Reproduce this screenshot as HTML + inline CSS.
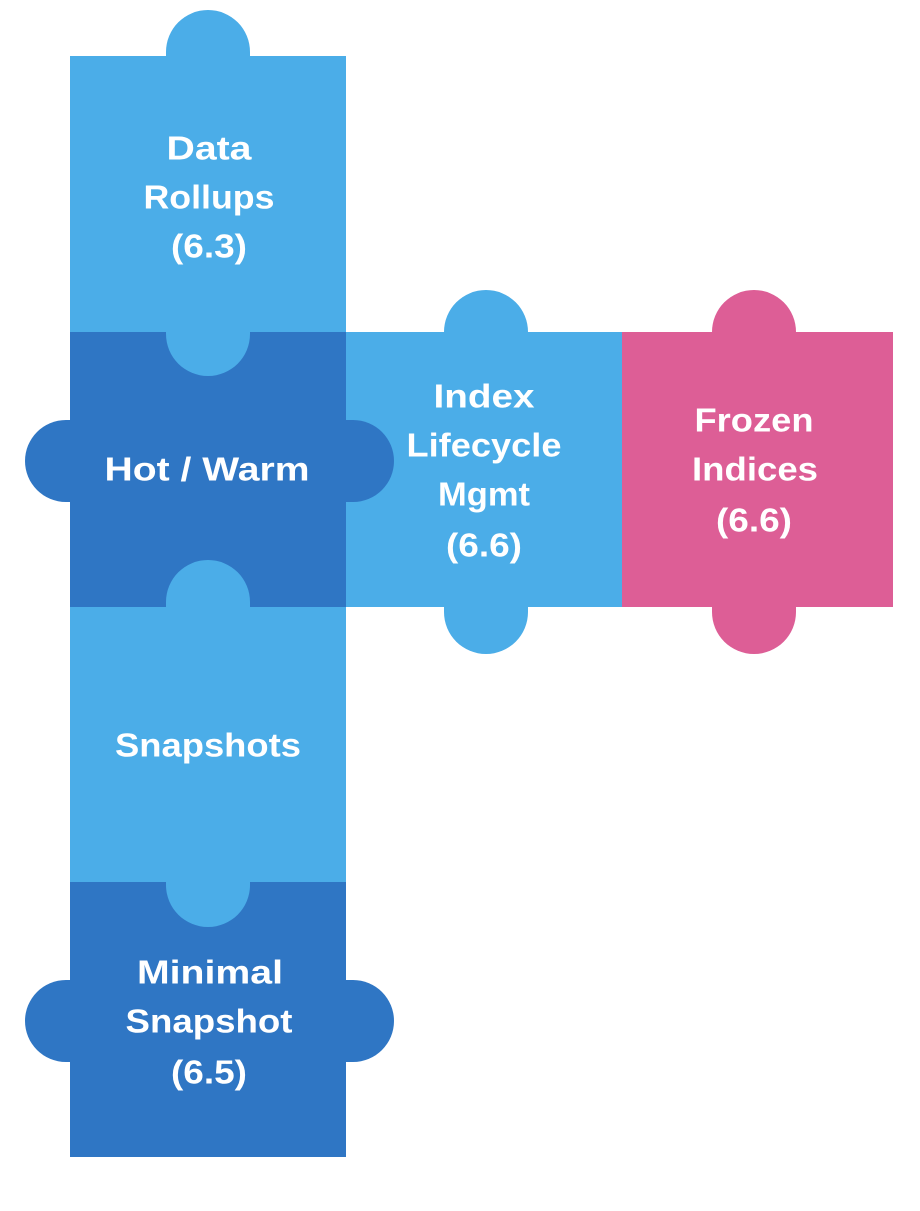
<!DOCTYPE html>
<html><head><meta charset="utf-8"><style>
html,body{margin:0;padding:0;background:#fff;}
svg text{font-family:"Liberation Sans",sans-serif;font-weight:bold;font-size:33px;fill:#fff;text-anchor:middle;dominant-baseline:central;}
</style></head><body>
<svg width="920" height="1206" viewBox="0 0 920 1206" xmlns="http://www.w3.org/2000/svg">
<rect x="346" y="332" width="276" height="275" fill="#4BADE8"/>
<rect x="444" y="290" width="84" height="364" rx="42" fill="#4BADE8"/>
<rect x="622" y="332" width="271" height="275" fill="#DD5E96"/>
<rect x="712" y="290" width="84" height="364" rx="42" fill="#DD5E96"/>
<rect x="70" y="882" width="276" height="275" fill="#2F76C4"/>
<rect x="25" y="980" width="369" height="82" rx="41" fill="#2F76C4"/>
<rect x="70" y="607" width="276" height="275" fill="#4BADE8"/>
<rect x="70" y="332" width="276" height="275" fill="#2F76C4"/>
<rect x="25" y="420" width="369" height="82" rx="41" fill="#2F76C4"/>
<rect x="166" y="560" width="84" height="367" rx="42" fill="#4BADE8"/>
<rect x="70" y="56" width="276" height="276" fill="#4BADE8"/>
<rect x="166" y="10" width="84" height="366" rx="42" fill="#4BADE8"/>
<text x="209" y="148" textLength="85" lengthAdjust="spacingAndGlyphs">Data</text>
<text x="209" y="197" textLength="131" lengthAdjust="spacingAndGlyphs">Rollups</text>
<text x="209" y="246" textLength="76" lengthAdjust="spacingAndGlyphs">(6.3)</text>
<text x="207" y="469" textLength="205" lengthAdjust="spacingAndGlyphs">Hot / Warm</text>
<text x="484" y="396" textLength="101" lengthAdjust="spacingAndGlyphs">Index</text>
<text x="484" y="445" textLength="155" lengthAdjust="spacingAndGlyphs">Lifecycle</text>
<text x="484" y="494" textLength="92" lengthAdjust="spacingAndGlyphs">Mgmt</text>
<text x="484" y="545" textLength="76" lengthAdjust="spacingAndGlyphs">(6.6)</text>
<text x="754" y="420" textLength="119" lengthAdjust="spacingAndGlyphs">Frozen</text>
<text x="755" y="469" textLength="126" lengthAdjust="spacingAndGlyphs">Indices</text>
<text x="754" y="520" textLength="76" lengthAdjust="spacingAndGlyphs">(6.6)</text>
<text x="208" y="745" textLength="186" lengthAdjust="spacingAndGlyphs">Snapshots</text>
<text x="210" y="972" textLength="146" lengthAdjust="spacingAndGlyphs">Minimal</text>
<text x="209" y="1021" textLength="167" lengthAdjust="spacingAndGlyphs">Snapshot</text>
<text x="209" y="1072" textLength="76" lengthAdjust="spacingAndGlyphs">(6.5)</text>
</svg>
</body></html>
